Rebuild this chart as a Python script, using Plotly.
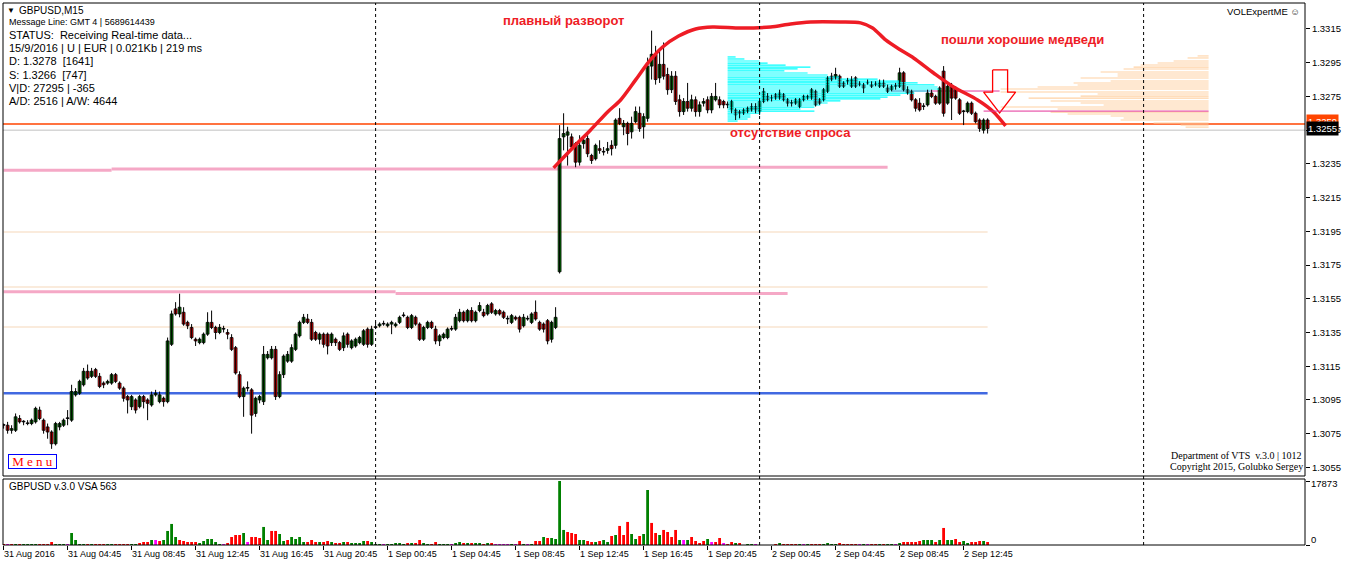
import plotly.graph_objects as go

# ---------------- DATA (GBPUSD M15, bar 0 = 31 Aug 00:45) ----------------
opens = [
    1.3080,1.3080,1.3077,1.3077,1.3084,1.3082,1.3081,1.3081,1.3082,1.3089,
    1.3083,1.3079,1.3076,1.3069,1.3079,1.3080,1.3084,1.3083,1.3098,1.3099,
    1.3104,1.3112,1.3109,1.3113,1.3109,1.3105,1.3105,1.3105,1.3110,1.3105,
    1.3102,1.3097,1.3091,1.3095,1.3091,1.3097,1.3095,1.3092,1.3098,1.3094,
    1.3096,1.3094,1.3128,1.3149,1.3146,1.3147,1.3141,1.3138,1.3131,1.3129,
    1.3129,1.3134,1.3141,1.3138,1.3135,1.3137,1.3135,1.3132,1.3126,1.3110,
    1.3097,1.3102,1.3101,1.3087,1.3095,1.3094,1.3120,1.3120,1.3125,1.3097,
    1.3110,1.3118,1.3118,1.3125,1.3133,1.3141,1.3143,1.3141,1.3135,1.3131,
    1.3134,1.3134,1.3129,1.3131,1.3129,1.3126,1.3134,1.3126,1.3127,1.3129,
    1.3128,1.3137,1.3128,1.3138,1.3139,1.3140,1.3139,1.3140,1.3139,1.3141,
    1.3145,1.3144,1.3138,1.3144,1.3140,1.3131,1.3138,1.3141,1.3137,1.3130,
    1.3132,1.3132,1.3137,1.3137,1.3142,1.3147,1.3142,1.3148,1.3142,1.3148,
    1.3147,1.3146,1.3152,1.3146,1.3148,1.3147,1.3143,1.3141,1.3144,1.3144,
    1.3139,1.3143,1.3141,1.3147,1.3141,1.3140,1.3142,1.3131,1.3138,1.3171,
    1.3251,1.3252,1.3251,1.3247,1.3236,1.3247,1.3250,1.3240,1.3238,1.3244,
    1.3242,1.3243,1.3246,1.3246,1.3262,1.3257,1.3259,1.3254,1.3260,1.3265,
    1.3257,1.3262,1.3293,1.3300,1.3286,1.3294,1.3288,1.3279,1.3287,1.3273,
    1.3266,1.3272,1.3268,1.3273,1.3266,1.3271,1.3273,1.3267,1.3273,1.3273,
    1.3272,1.3270,1.3267,1.3267,1.3266,1.3265,1.3266,1.3267,1.3269,1.3266,
    1.3272,1.3275,1.3274,1.3276,1.3274,1.3276,1.3273,1.3271,1.3271,1.3269,
    1.3273,1.3274,1.3274,1.3278,1.3273,1.3273,1.3278,1.3287,1.3286,1.3287,
    1.3283,1.3284,1.3281,1.3286,1.3282,1.3282,1.3283,1.3282,1.3282,1.3281,
    1.3283,1.3280,1.3279,1.3281,1.3281,1.3289,1.3279,1.3278,1.3273,1.3271,
    1.3269,1.3270,1.3277,1.3275,1.3271,1.3290,1.3271,1.3281,1.3280,1.3273,
    1.3266,1.3266,1.3271,1.3265,1.3261,1.3255,1.3261,
]
highs = [
    1.3081,1.3082,1.3080,1.3087,1.3086,1.3083,1.3083,1.3084,1.3091,1.3091,
    1.3084,1.3081,1.3077,1.3082,1.3082,1.3084,1.3089,1.3104,1.3102,1.3107,
    1.3114,1.3116,1.3114,1.3114,1.3111,1.3106,1.3107,1.3111,1.3111,1.3106,
    1.3103,1.3098,1.3098,1.3096,1.3098,1.3098,1.3096,1.3100,1.3101,1.3100,
    1.3097,1.3132,1.3148,1.3153,1.3158,1.3150,1.3142,1.3140,1.3132,1.3132,
    1.3135,1.3147,1.3148,1.3139,1.3140,1.3139,1.3137,1.3134,1.3127,1.3112,
    1.3103,1.3106,1.3102,1.3097,1.3098,1.3127,1.3124,1.3127,1.3127,1.3112,
    1.3122,1.3124,1.3128,1.3135,1.3142,1.3146,1.3146,1.3143,1.3136,1.3135,
    1.3135,1.3135,1.3135,1.3132,1.3130,1.3135,1.3135,1.3131,1.3132,1.3133,
    1.3137,1.3138,1.3139,1.3141,1.3141,1.3142,1.3141,1.3142,1.3141,1.3145,
    1.3147,1.3145,1.3146,1.3145,1.3141,1.3139,1.3142,1.3142,1.3139,1.3134,
    1.3135,1.3138,1.3139,1.3146,1.3149,1.3148,1.3149,1.3150,1.3148,1.3153,
    1.3149,1.3152,1.3153,1.3149,1.3149,1.3148,1.3145,1.3146,1.3145,1.3145,
    1.3146,1.3145,1.3147,1.3154,1.3142,1.3141,1.3143,1.3142,1.3150,1.3258,
    1.3265,1.3257,1.3253,1.3248,1.3252,1.3250,1.3252,1.3241,1.3247,1.3249,
    1.3245,1.3248,1.3249,1.3262,1.3268,1.3261,1.3260,1.3263,1.3269,1.3269,
    1.3265,1.3298,1.3314,1.3305,1.3303,1.3307,1.3292,1.3290,1.3290,1.3276,
    1.3274,1.3283,1.3276,1.3275,1.3272,1.3274,1.3275,1.3277,1.3283,1.3275,
    1.3273,1.3272,1.3273,1.3268,1.3267,1.3268,1.3269,1.3271,1.3271,1.3273,
    1.3280,1.3277,1.3276,1.3277,1.3279,1.3277,1.3274,1.3273,1.3274,1.3274,
    1.3276,1.3276,1.3280,1.3279,1.3274,1.3280,1.3287,1.3289,1.3292,1.3288,
    1.3284,1.3286,1.3287,1.3287,1.3284,1.3283,1.3285,1.3284,1.3284,1.3285,
    1.3285,1.3282,1.3282,1.3283,1.3292,1.3290,1.3281,1.3279,1.3274,1.3274,
    1.3271,1.3279,1.3279,1.3276,1.3281,1.3293,1.3283,1.3283,1.3281,1.3274,
    1.3267,1.3272,1.3272,1.3266,1.3262,1.3262,1.3262,
]
lows = [
    1.3078,1.3075,1.3075,1.3076,1.3081,1.3080,1.3080,1.3080,1.3081,1.3083,
    1.3075,1.3072,1.3066,1.3068,1.3077,1.3079,1.3080,1.3082,1.3097,1.3098,
    1.3103,1.3107,1.3108,1.3108,1.3102,1.3102,1.3104,1.3104,1.3105,1.3101,
    1.3094,1.3087,1.3089,1.3087,1.3090,1.3090,1.3083,1.3091,1.3097,1.3093,
    1.3091,1.3093,1.3127,1.3145,1.3144,1.3139,1.3137,1.3131,1.3127,1.3128,
    1.3128,1.3133,1.3137,1.3131,1.3134,1.3135,1.3131,1.3124,1.3110,1.3096,
    1.3085,1.3100,1.3075,1.3085,1.3093,1.3092,1.3119,1.3119,1.3095,1.3096,
    1.3108,1.3117,1.3117,1.3124,1.3132,1.3140,1.3140,1.3130,1.3130,1.3128,
    1.3126,1.3122,1.3127,1.3127,1.3124,1.3124,1.3126,1.3125,1.3126,1.3128,
    1.3127,1.3126,1.3127,1.3137,1.3138,1.3139,1.3138,1.3134,1.3138,1.3140,
    1.3144,1.3137,1.3137,1.3139,1.3130,1.3130,1.3137,1.3137,1.3128,1.3127,
    1.3131,1.3131,1.3136,1.3136,1.3141,1.3141,1.3141,1.3141,1.3141,1.3147,
    1.3144,1.3145,1.3146,1.3145,1.3145,1.3143,1.3140,1.3140,1.3142,1.3135,
    1.3138,1.3142,1.3140,1.3142,1.3136,1.3135,1.3128,1.3129,1.3137,1.3170,
    1.3243,1.3234,1.3243,1.3233,1.3234,1.3244,1.3239,1.3235,1.3237,1.3241,
    1.3240,1.3241,1.3240,1.3244,1.3258,1.3252,1.3246,1.3250,1.3259,1.3254,
    1.3250,1.3260,1.3285,1.3282,1.3283,1.3285,1.3276,1.3277,1.3270,1.3263,
    1.3264,1.3266,1.3266,1.3263,1.3263,1.3269,1.3265,1.3265,1.3272,1.3268,
    1.3268,1.3268,1.3265,1.3261,1.3262,1.3264,1.3265,1.3266,1.3265,1.3264,
    1.3271,1.3272,1.3272,1.3273,1.3273,1.3272,1.3269,1.3269,1.3270,1.3268,
    1.3272,1.3273,1.3273,1.3269,1.3270,1.3272,1.3277,1.3284,1.3285,1.3280,
    1.3280,1.3282,1.3280,1.3280,1.3281,1.3277,1.3282,1.3280,1.3281,1.3280,
    1.3280,1.3277,1.3278,1.3279,1.3280,1.3278,1.3276,1.3272,1.3266,1.3266,
    1.3267,1.3269,1.3274,1.3270,1.3270,1.3263,1.3270,1.3261,1.3273,1.3264,
    1.3258,1.3265,1.3264,1.3259,1.3254,1.3253,1.3253,
]
closes = [
    1.3080,1.3077,1.3078,1.3085,1.3082,1.3082,1.3081,1.3083,1.3090,1.3084,
    1.3077,1.3076,1.3069,1.3081,1.3081,1.3083,1.3084,1.3100,1.3100,1.3106,
    1.3112,1.3108,1.3112,1.3109,1.3103,1.3104,1.3106,1.3110,1.3106,1.3102,
    1.3096,1.3095,1.3097,1.3089,1.3097,1.3094,1.3093,1.3098,1.3099,1.3098,
    1.3094,1.3130,1.3146,1.3146,1.3150,1.3140,1.3139,1.3132,1.3130,1.3131,
    1.3134,1.3141,1.3138,1.3135,1.3138,1.3137,1.3134,1.3125,1.3111,1.3097,
    1.3102,1.3102,1.3086,1.3096,1.3097,1.3122,1.3122,1.3125,1.3097,1.3110,
    1.3121,1.3122,1.3126,1.3134,1.3141,1.3144,1.3141,1.3131,1.3131,1.3134,
    1.3128,1.3127,1.3134,1.3129,1.3125,1.3133,1.3128,1.3130,1.3131,1.3132,
    1.3136,1.3128,1.3137,1.3138,1.3140,1.3140,1.3140,1.3141,1.3140,1.3144,
    1.3145,1.3138,1.3145,1.3140,1.3131,1.3138,1.3141,1.3138,1.3130,1.3133,
    1.3134,1.3137,1.3137,1.3144,1.3147,1.3142,1.3148,1.3142,1.3147,1.3151,
    1.3145,1.3151,1.3147,1.3148,1.3146,1.3144,1.3143,1.3145,1.3143,1.3137,
    1.3144,1.3143,1.3146,1.3143,1.3137,1.3137,1.3130,1.3141,1.3144,1.3250,
    1.3253,1.3254,1.3245,1.3236,1.3246,1.3249,1.3241,1.3237,1.3246,1.3243,
    1.3242,1.3244,1.3244,1.3261,1.3259,1.3259,1.3253,1.3259,1.3266,1.3256,
    1.3263,1.3293,1.3300,1.3285,1.3294,1.3287,1.3279,1.3287,1.3272,1.3266,
    1.3272,1.3268,1.3273,1.3266,1.3270,1.3272,1.3267,1.3275,1.3275,1.3270,
    1.3270,1.3270,1.3272,1.3264,1.3265,1.3267,1.3268,1.3269,1.3267,1.3272,
    1.3278,1.3273,1.3274,1.3274,1.3277,1.3273,1.3271,1.3271,1.3273,1.3273,
    1.3275,1.3275,1.3279,1.3270,1.3271,1.3279,1.3286,1.3285,1.3288,1.3281,
    1.3281,1.3284,1.3285,1.3281,1.3282,1.3280,1.3283,1.3281,1.3282,1.3283,
    1.3281,1.3278,1.3281,1.3281,1.3289,1.3279,1.3277,1.3273,1.3268,1.3267,
    1.3269,1.3277,1.3275,1.3271,1.3280,1.3265,1.3281,1.3274,1.3274,1.3265,
    1.3266,1.3271,1.3265,1.3260,1.3256,1.3261,1.3256,
]
volumes = [
    280,280,280,280,280,280,280,280,280,280,
    280,280,840,280,280,280,280,3360,1400,280,
    280,280,280,280,280,280,280,280,280,280,
    280,280,280,280,560,840,840,1400,1400,1120,
    1400,3920,5880,2240,1400,1120,840,840,840,560,
    1120,1680,1680,840,280,280,560,2240,2800,2800,
    3360,840,2240,2240,1960,5040,1400,3920,3920,3080,
    1120,1400,2240,1680,2240,840,840,1400,840,840,
    840,1120,840,560,560,840,840,560,560,560,
    1120,1120,840,280,280,280,280,280,560,560,
    280,560,560,560,1400,560,280,280,840,280,
    280,280,280,560,840,560,560,560,560,560,
    280,560,560,280,280,280,280,280,280,1120,
    280,280,280,1120,1120,2240,1960,1960,1680,17873,
    4200,3640,3360,3080,1400,1400,1120,840,840,1120,
    1400,840,2520,2800,5320,2800,6440,3080,1680,2520,
    3080,15360,6160,3360,2800,4200,3640,2240,4200,1400,
    1400,1400,2240,1120,560,1120,1680,840,840,1960,
    560,280,840,560,560,0,280,280,280,0,
    0,0,0,280,560,280,280,280,280,280,
    280,280,280,280,280,280,560,280,280,560,
    280,280,280,280,280,280,280,280,280,280,
    280,280,280,280,560,840,840,840,840,1120,
    1400,1400,1400,840,1400,4760,1400,1400,1680,840,
    1120,560,840,840,1120,1120,840,
]
volume_kind = (
    "rmrgrggggr" "rrrgggmggg" "grgrrrggrr" "rrggrrrgmr" "ggggrrrrrg"
    "gggggmrrrr" "gmrrrggrrg" "grggggrrrg" "rrgrrgrggg" "grgggmgggg"
    "grgrrggrrg" "ggmggrgrgg" "rgrmmmmgmr" "gmgrrgrggg" "grrrggrrgr"
    "ggrgrrrggr" "ggrrgrrrrg" "mgrrrrgmrr" "mrrgrgggmg" "gggrgrrrrg"
    "mgrrrggggr" "rrrrmgmrrg" "rggmgrrrrr" "gggrgrggrr" "ggrrrgr"
)
vol_max_label = 17873

tick_bars = [0, 16, 32, 48, 64, 80, 96, 112, 128, 144, 160, 176, 192, 208, 224, 240]
tick_labels = ["31 Aug 2016", "31 Aug 04:45", "31 Aug 08:45", "31 Aug 12:45",
               "31 Aug 16:45", "31 Aug 20:45", "1 Sep 00:45", "1 Sep 04:45",
               "1 Sep 08:45", "1 Sep 12:45", "1 Sep 16:45", "1 Sep 20:45",
               "2 Sep 00:45", "2 Sep 04:45", "2 Sep 08:45", "2 Sep 12:45"]
price_ticks = [1.3055, 1.3075, 1.3095, 1.3115, 1.3135, 1.3155, 1.3175,
               1.3195, 1.3215, 1.3235, 1.3255, 1.3275, 1.3295, 1.3315]
day_separators = [93, 189, 285]

# horizontal levels: (price, start bar, end bar, colour, width, layer)
levels = [
    (1.32312, 0, 27, "#F5A8C6", 3, "below"), (1.32320, 27, 139, "#F5A8C6", 3, "below"),
    (1.32330, 139, 221, "#F5A8C6", 3, "below"),
    (1.31592, 0, 98, "#F5A8C6", 3, "below"), (1.31582, 98, 196, "#F5A8C6", 3, "below"),
    (1.31946, 0, 246, "#FAEBDC", 2, "below"), (1.31620, 0, 246, "#FAEBDC", 2, "below"),
    (1.31383, 0, 246, "#FAEBDC", 2, "below"),
    (1.30990, 0, 246, "#4169E1", 2.5, "below"),
    (1.32782, 222, 249, "#E3349A", 1, "below"),
    (1.32663, 245, 301.25, "#E3349A", 1, "above"),
]
ask_line = 1.32587
bid_line = 1.3255

# volume profiles
cyan_start = 181
cyan_levels = [1.32984, 1.32972, 1.32960, 1.32948, 1.32936, 1.32924, 1.32913, 1.32901,
               1.32889, 1.32877, 1.32865, 1.32853, 1.32841, 1.32830, 1.32818, 1.32806,
               1.32794, 1.32782, 1.32770, 1.32758, 1.32746, 1.32735, 1.32723, 1.32711,
               1.32699, 1.32687, 1.32675, 1.32663, 1.32651, 1.32640, 1.32628, 1.32616,
               1.32604]
cyan_lengths = [2.0, 4.2, 8.0, 10.0, 14.5, 20.7, 17.5, 14.2, 20.0, 25.0, 28.0, 37.5,
                43.2, 47.5, 51.7, 52.5, 53.2, 50.7, 46.7, 43.2, 40.0, 38.2, 28.2, 25.0,
                23.2, 21.7, 18.2, 21.7, 8.2, 5.7, 5.7, 5.0, 2.5]
beige_end = 301.25
beige_levels = [1.32990, 1.32978, 1.32960, 1.32948, 1.32936, 1.32924, 1.32913, 1.32895,
                1.32883, 1.32871, 1.32859, 1.32841, 1.32830, 1.32818, 1.32806, 1.32794,
                1.32776, 1.32764, 1.32752, 1.32740, 1.32723, 1.32711, 1.32699, 1.32687,
                1.32675, 1.32657, 1.32646, 1.32634, 1.32622, 1.32610, 1.32592, 1.32580,
                1.32568]
beige_lengths = [2.75, 5.25, 8.75, 12.75, 17.0, 18.75, 21.25, 27.0, 22.75, 22.75, 32.0,
                 24.5, 33.75, 32.75, 42.75, 52.0, 52.0, 27.75, 32.0, 45.0, 39.5, 32.0,
                 26.25, 52.0, 37.75, 39.5, 35.25, 24.5, 21.25, 22.0, 13.75, 7.0, 5.75]

# hand-drawn reversal curve (bar, price)
curve_bar = [137.5, 142.5, 146.75, 151, 154.25, 158, 161.25, 164.75, 168.75, 173, 177.25,
             184.25, 191.75, 196.75, 201.75, 209.25, 214.25, 217.25, 220.5, 224.25, 227.5,
             232.5, 237.5, 243.5, 247.5, 250.5]
curve_price = [1.32326, 1.32450, 1.32551, 1.32658, 1.32729, 1.32848, 1.32954, 1.33043,
               1.33108, 1.33150, 1.33162, 1.33156, 1.33162, 1.33180, 1.33191, 1.33191,
               1.33186, 1.33156, 1.33085, 1.33025, 1.32978, 1.32889, 1.32806, 1.32729,
               1.32658, 1.32575]
# hollow down arrow outline (bar, price)
arrow_bar = [247.25, 251, 251, 253, 249, 245, 247.25, 247.25]
arrow_price = [1.32907, 1.32907, 1.32776, 1.32776, 1.32652, 1.32776, 1.32776, 1.32907]

# ---------------- LAYOUT HELPERS ----------------
W, H = 1346, 567
PL, PR, PT, PB = 3, 1305, 3, 545


def pxx(x):
    return (x - PL) / (PR - PL)


def pyy(y):
    return (PB - y) / (PB - PT)


MAIN_DOM = [pyy(476), 1.0]
VOL_DOM = [0.0, pyy(479)]
FONT = "Liberation Sans"

n = len(opens)
bars = list(range(n))

fig = go.Figure()

# profiles (behind candles), drawn as thin horizontal strokes
cx, cy = [], []
for lv, ln in zip(cyan_levels, cyan_lengths):
    cx += [cyan_start, cyan_start + ln, None]
    cy += [lv, lv, None]
fig.add_trace(go.Scatter(x=cx, y=cy, mode="lines", line=dict(color="#00FFFF", width=1.2),
                         xaxis="x2", yaxis="y", hoverinfo="skip", showlegend=False))
bx, by = [], []
for lv, ln in zip(beige_levels, beige_lengths):
    bx += [beige_end - ln, beige_end, None]
    by += [lv, lv, None]
fig.add_trace(go.Scatter(x=bx, y=by, mode="lines", line=dict(color="#FFD2A4", width=1.1),
                         xaxis="x2", yaxis="y", hoverinfo="skip", showlegend=False))

# wicks
wx, wy = [], []
for i in bars:
    wx += [i, i, None]
    wy += [lows[i], highs[i], None]
fig.add_trace(go.Scatter(x=wx, y=wy, mode="lines", line=dict(color="black", width=1),
                         xaxis="x2", yaxis="y", hoverinfo="skip", showlegend=False))

# bodies
body_base = [min(o, c) for o, c in zip(opens, closes)]
body_h = [max(abs(c - o), 0.00004) for o, c in zip(opens, closes)]
body_col = ["#008000" if c > o else ("#FF0000" if c < o else "black")
            for o, c in zip(opens, closes)]
fig.add_trace(go.Bar(x=bars, y=body_h, base=body_base, width=0.72,
                     marker=dict(color=body_col, line=dict(color="black", width=0.8)),
                     xaxis="x2", yaxis="y", hoverinfo="skip", showlegend=False))

# curve and arrow
fig.add_trace(go.Scatter(x=curve_bar, y=curve_price, mode="lines",
                         line=dict(color="#EE1C25", width=3.5, shape="spline", smoothing=0.8),
                         xaxis="x2", yaxis="y", hoverinfo="skip", showlegend=False))
fig.add_trace(go.Scatter(x=arrow_bar, y=arrow_price, mode="lines",
                         line=dict(color="#FF0000", width=1.3),
                         xaxis="x2", yaxis="y", hoverinfo="skip", showlegend=False))

# volumes
kind_col = {"g": "#008000", "r": "#FF0000", "m": "#FF00FF"}
fig.add_trace(go.Bar(x=bars, y=volumes, width=0.7,
                     marker=dict(color=[kind_col[k] for k in volume_kind], line=dict(width=0)),
                     xaxis="x", yaxis="y2", hoverinfo="skip", showlegend=False))

shapes = []
for price, b0, b1, col, wd, lay in levels:
    shapes.append(dict(type="line", xref="x2", yref="y", x0=b0, x1=b1, y0=price, y1=price,
                       line=dict(color=col, width=wd), layer=lay))
shapes.append(dict(type="line", xref="paper", yref="y", x0=0, x1=1, y0=bid_line, y1=bid_line,
                   line=dict(color="#C0C0C0", width=1), layer="below"))
shapes.append(dict(type="line", xref="paper", yref="y", x0=0, x1=1, y0=ask_line, y1=ask_line,
                   line=dict(color="#FF4500", width=1.5), layer="below"))
for s in day_separators:
    shapes.append(dict(type="line", xref="x", yref="paper", x0=s, x1=s, y0=0, y1=1,
                       line=dict(color="black", width=1, dash="3px,3px"), layer="above"))
# pane frames
shapes.append(dict(type="rect", xref="paper", yref="paper", x0=0, x1=1, y0=MAIN_DOM[0], y1=1,
                   line=dict(color="black", width=1)))
shapes.append(dict(type="rect", xref="paper", yref="paper", x0=0, x1=1, y0=0, y1=VOL_DOM[1],
                   line=dict(color="black", width=1)))

ann = []


def txt(x, y, s, size=11, color="black", family=FONT, xanchor="left", **kw):
    ann.append(dict(x=pxx(x), y=pyy(y), xref="paper", yref="paper", text=s, showarrow=False,
                    xanchor=xanchor, yanchor="middle",
                    font=dict(size=size, color=color, family=family), **kw))


txt(5, 10, "▼", size=8)
txt(17, 10, "GBPUSD,M15", size=10)
txt(7, 22, "Message Line: GMT 4 | 5689614439", size=9)
txt(7, 35, "STATUS:  Receiving Real-time data...", size=11)
txt(7, 48, "15/9/2016 | U | EUR | 0.021Kb | 219 ms", size=11)
txt(7, 61, "D: 1.3278  [1641]", size=11)
txt(7, 75, "S: 1.3266  [747]", size=11)
txt(7, 88, "V|D: 27295 | -365", size=11)
txt(7, 101, "A/D: 2516 | A/W: 4644", size=11)
txt(1302, 11, "VOLExpertME ☺", size=9.5, xanchor="right")
txt(1236, 455, "Department of VTS  v.3.0 | 1012", size=10, family="Liberation Serif",
    xanchor="center")
txt(1236, 466, "Copyright 2015, Golubko Sergey", size=10, family="Liberation Serif",
    xanchor="center")
txt(8, 461, "M e n u", size=13, color="#FF0000", family="Liberation Serif",
    bordercolor="#0000FF", borderwidth=1, borderpad=0, bgcolor="white",
    width=47, height=13, align="center")
txt(7, 486, "GBPUSD v.3.0 VSA 563", size=10)
txt(1309, 483, str(vol_max_label), size=9.5)
txt(1309, 539, "0", size=9.5)
# price boxes
txt(1306, 121, "1.3259", size=9.5, color="white", bgcolor="#FF4500", borderpad=1)
txt(1306, 129, "1.3255", size=9.5, color="white", bgcolor="black", borderpad=1)

red = "#EE1C25"
for b, p, s in [(124.25, 1.33203, "плавный разворот"),
                (233.75, 1.33085, "пошли хорошие медведи"),
                (181, 1.32539, "отсутствие спроса")]:
    ann.append(dict(x=b, y=p, xref="x2", yref="y", text="<b>" + s + "</b>", showarrow=False,
                    xanchor="left", yanchor="middle",
                    font=dict(size=13, color=red, family=FONT)))

fig.update_layout(
    width=W, height=H, margin=dict(l=PL, r=W - PR, t=PT, b=H - PB),
    paper_bgcolor="white", plot_bgcolor="white", barmode="overlay", showlegend=False,
    xaxis=dict(domain=[0, 1], anchor="y2", range=[-0.15, 325.35], tickvals=tick_bars,
               ticktext=tick_labels, ticks="outside", ticklen=4, tickcolor="black",
               ticklabelposition="outside right",
               tickfont=dict(family=FONT, size=9, color="black"),
               showgrid=False, zeroline=False, showline=False),
    xaxis2=dict(domain=[0, 1], anchor="y", matches="x", showticklabels=False, ticks="",
                showgrid=False, zeroline=False, showline=False),
    yaxis=dict(domain=MAIN_DOM, anchor="x2", side="right", range=[1.30499, 1.33304],
               tickvals=price_ticks, ticktext=["%.4f" % v for v in price_ticks],
               ticks="outside", ticklen=4, tickcolor="black",
               tickfont=dict(family=FONT, size=9.5, color="black"),
               showgrid=False, zeroline=False, showline=False),
    yaxis2=dict(domain=VOL_DOM, anchor="x", side="right", range=[0, 18432],
                tickvals=[0, vol_max_label], showticklabels=False, ticks="outside",
                ticklen=4, tickcolor="black", showgrid=False, zeroline=False, showline=False),
    shapes=shapes, annotations=ann,
)

fig.write_html("out.html", config={"displayModeBar": False},
               post_script="document.body.style.margin='0px';document.body.style.overflow='hidden';")
